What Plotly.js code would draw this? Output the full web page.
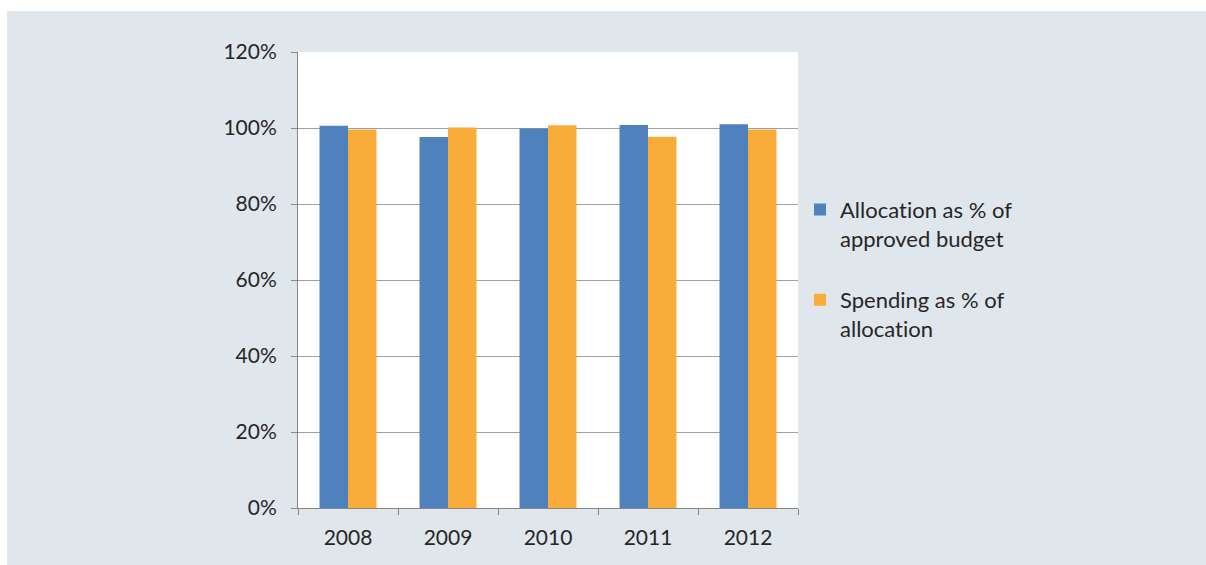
<!DOCTYPE html>
<html>
<head>
<meta charset="utf-8">
<script src="https://cdn.plot.ly/plotly-3.0.1.min.js"></script>
<style>
html,body{margin:0;padding:0;background:#ffffff;width:1206px;height:565px;overflow:hidden;}
#chart{position:absolute;left:7px;top:11px;width:1199px;height:554px;}
#chart text{font-variant-ligatures:none;font-feature-settings:"liga" 0;}
</style>
</head>
<body>
<div id="chart"></div>
<script>
const years = ['2008', '2009', '2010', '2011', '2012'];
const allocationPct = [100.6, 97.6, 99.9, 100.8, 101.0];
const spendingPct = [99.6, 100.1, 100.7, 97.7, 99.6];
const seriesNames = ['Allocation as % of<br>approved budget', 'Spending as % of<br>allocation'];
const yTickVals = [0, 20, 40, 60, 80, 100, 120];
const yTickText = ['0%', '20%', '40%', '60%', '80%', '100%', '120%'];

const fontFam = 'Lato, "Open Sans", sans-serif';
const traces = [
  {type: 'bar', x: years, y: allocationPct, name: seriesNames[0], legendgroup: 'a',
   marker: {color: '#4f81bd'}, hoverinfo: 'skip'},
  {type: 'bar', x: years, y: spendingPct, name: seriesNames[1], legendgroup: 'b',
   marker: {color: '#f9ac3a'}, hoverinfo: 'skip'}
];
const layout = {
  width: 1199, height: 554,
  paper_bgcolor: '#dfe6ec', plot_bgcolor: '#ffffff',
  margin: {l: 291, r: 408, t: 41, b: 57},
  barmode: 'group', bargap: 0.43, bargroupgap: 0,
  font: {family: fontFam, size: 21, color: '#262626'},
  xaxis: {type: 'category', tickson: 'boundaries', ticks: 'outside', ticklen: 6, tickcolor: '#868686',
          showline: true, linecolor: '#868686', linewidth: 1, showgrid: false,
          ticklabelstandoff: 11, tickfont: {size: 21, color: '#262626'}},
  yaxis: {range: [0, 120], tickvals: yTickVals, ticktext: yTickText, ticks: 'outside', ticklen: 6,
          tickcolor: '#868686', showline: true, linecolor: '#868686', linewidth: 1,
          showgrid: true, gridcolor: '#a0a0a0', gridwidth: 1, zeroline: false,
          ticklabelstandoff: 10, tickfont: {size: 21, color: '#262626'}},
  showlegend: true,
  legend: {x: 1.004, y: 0.7, xanchor: 'left', yanchor: 'top', bgcolor: 'rgba(0,0,0,0)',
           font: {size: 22, color: '#262626'}, traceorder: 'grouped', tracegroupgap: 30,
           valign: 'top', itemwidth: 30}
};
Plotly.newPlot('chart', traces, layout, {staticPlot: true});
</script>
</body>
</html>
